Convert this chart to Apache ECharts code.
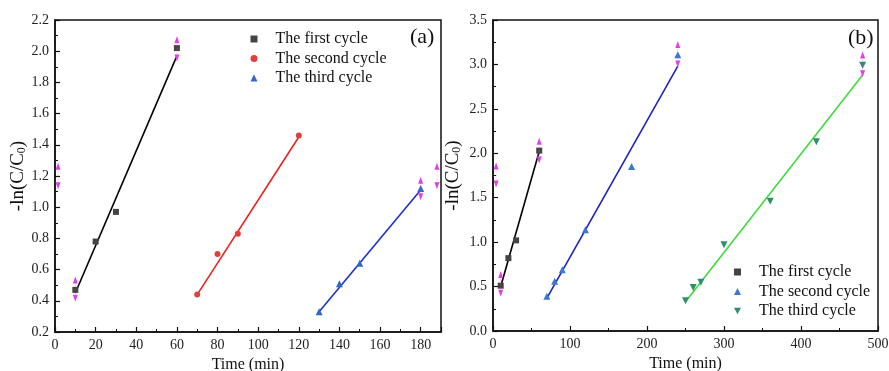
<!DOCTYPE html>
<html>
<head>
<meta charset="utf-8">
<script src="https://cdn.jsdelivr.net/npm/echarts@6/dist/echarts.min.js"></script>
<style>
  html, body { margin: 0; padding: 0; background: #fff; }
  #chart { width: 889px; height: 371px; }
</style>
</head>
<body>
<div id="chart"></div>
<script>
// panel (a) data
const aFirstX = [10, 20, 30, 60];
const aFirstY = [0.47, 0.78, 0.97, 2.02];
const aSecondX = [70, 80, 90, 120];
const aSecondY = [0.44, 0.70, 0.83, 1.46];
const aThirdX = [130, 140, 150, 180];
const aThirdY = [0.33, 0.51, 0.64, 1.12];
const aFirstFit = [[10, 0.45], [60, 1.97]];
const aSecondFit = [[70, 0.44], [120, 1.45]];
const aThirdFit = [[130, 0.33], [180, 1.11]];
const aErrX = [1.5, 10, 60, 180, 188];
const aErrHigh = [1.26, 0.53, 2.07, 1.17, 1.26];
const aErrLow = [1.14, 0.42, 1.96, 1.07, 1.14];

// panel (b) data
const bFirstX = [10, 20, 30, 60];
const bFirstY = [0.51, 0.82, 1.02, 2.03];
const bSecondX = [70, 80, 90, 120, 180, 240];
const bSecondY = [0.39, 0.56, 0.69, 1.14, 1.85, 3.11];
const bThirdX = [250, 260, 270, 300, 360, 420, 480];
const bThirdY = [0.34, 0.49, 0.55, 0.97, 1.46, 2.13, 2.99];
const bFirstFit = [[10, 0.50], [60, 2.02]];
const bSecondFit = [[70, 0.37], [240, 2.98]];
const bThirdFit = [[250, 0.33], [480, 2.88]];
const bErrX = [4, 10, 60, 240, 480];
const bErrHigh = [1.85, 0.63, 2.13, 3.22, 3.10];
const bErrLow = [1.66, 0.43, 1.93, 3.01, 2.90];

const legendNames = ['The first cycle', 'The second cycle', 'The third cycle'];

const FONT = "'Liberation Serif', 'DejaVu Serif', serif";
const downTri = 'path://M0,0 L10,0 L5,9 Z';

function zip(xs, ys) {
  return xs.map((x, i) => [x, ys[i]]);
}

// error bar: faint dashed stem with up/down arrow heads
function errRender(params, api) {
  const x = api.value(0);
  const hi = api.coord([x, api.value(1)]);
  const lo = api.coord([x, api.value(2)]);
  const c = '#e23ee6';
  return {
    type: 'group',
    children: [
      { type: 'line', shape: { x1: hi[0], y1: hi[1], x2: lo[0], y2: lo[1] },
        style: { stroke: 'rgba(226,62,230,0.35)', lineWidth: 1, lineDash: [2, 2] } },
      { type: 'polygon', shape: { points: [[hi[0] - 2.5, hi[1] + 3], [hi[0] + 2.5, hi[1] + 3], [hi[0], hi[1] - 4]] },
        style: { fill: c } },
      { type: 'polygon', shape: { points: [[lo[0] - 2.5, lo[1] - 3], [lo[0] + 2.5, lo[1] - 3], [lo[0], lo[1] + 4]] },
        style: { fill: c } }
    ]
  };
}

function xAxisOpt(idx, max, interval) {
  return {
    gridIndex: idx, type: 'value', min: 0, max: max, interval: interval,
    name: 'Time (min)', nameLocation: 'middle', nameGap: 23,
    nameTextStyle: { fontFamily: FONT, fontSize: 16, color: '#111' },
    axisLine: { show: true, lineStyle: { color: '#111', width: 1.5 } },
    axisTick: { show: true, inside: true, length: 5, lineStyle: { color: '#111', width: 1.2 } },
    minorTick: { show: true, splitNumber: 2, length: 3, lineStyle: { color: '#111', width: 1 } },
    axisLabel: { fontFamily: FONT, fontSize: 14, color: '#222', margin: 6, showMaxLabel: max % interval === 0 },
    splitLine: { show: false }
  };
}

function yAxisOpt(idx, min, max, interval, gap) {
  return {
    gridIndex: idx, type: 'value', min: min, max: max, interval: interval,
    name: '-ln(C/C{sub|0})', nameLocation: 'middle', nameGap: gap, nameRotate: 90,
    nameTextStyle: {
      fontFamily: FONT, fontSize: 19, color: '#111',
      rich: { sub: { fontFamily: FONT, fontSize: 12, verticalAlign: 'bottom', padding: [7, 0, 0, 0] } }
    },
    axisLine: { show: true, lineStyle: { color: '#111', width: 1.5 } },
    axisTick: { show: true, inside: true, length: 5, lineStyle: { color: '#111', width: 1.2 } },
    minorTick: { show: true, splitNumber: 2, length: 3, lineStyle: { color: '#111', width: 1 } },
    axisLabel: { fontFamily: FONT, fontSize: 14, color: '#222', margin: 6, formatter: v => v.toFixed(1) },
    splitLine: { show: false }
  };
}

function scatter(name, idx, data, symbol, color, size) {
  return {
    name: name, type: 'scatter', xAxisIndex: idx, yAxisIndex: idx,
    data: data, symbol: symbol, symbolSize: size, itemStyle: { color: color, opacity: 1 }, z: 5
  };
}

function fit(idx, data, color) {
  return {
    type: 'line', xAxisIndex: idx, yAxisIndex: idx, data: data, showSymbol: false,
    lineStyle: { color: color, width: 1.6 }, silent: true, z: 3
  };
}

function errSeries(idx, xs, hi, lo) {
  return {
    type: 'custom', xAxisIndex: idx, yAxisIndex: idx, renderItem: errRender,
    data: xs.map((x, i) => [x, hi[i], lo[i]]), encode: { x: 0, y: [1, 2] }, z: 6, silent: true
  };
}

function legendOpt(prefix, left, top) {
  return {
    data: legendNames.map(n => prefix + n), orient: 'vertical', left: left, top: top,
    padding: 0, itemWidth: 7, itemHeight: 7, itemGap: 3.5,
    formatter: n => n.slice(prefix.length),
    textStyle: { fontFamily: FONT, fontSize: 16, color: '#111', lineHeight: 16, padding: [0, 0, 0, 13] }
  };
}

const chart = echarts.init(document.getElementById('chart'));
chart.setOption({
  animation: false,
  backgroundColor: '#fff',
  grid: [
    { left: 55, top: 20, width: 386, height: 312, outerBoundsMode: 'none', containLabel: false,
      show: true, borderColor: '#111', borderWidth: 1.5, backgroundColor: 'transparent' },
    { left: 493, top: 20, width: 385, height: 311, outerBoundsMode: 'none', containLabel: false,
      show: true, borderColor: '#111', borderWidth: 1.5, backgroundColor: 'transparent' }
  ],
  xAxis: [xAxisOpt(0, 190, 20), xAxisOpt(1, 500, 100)],
  yAxis: [yAxisOpt(0, 0.2, 2.2, 0.2, 25), yAxisOpt(1, 0, 3.5, 0.5, 30)],
  legend: [legendOpt('a:', 250.5, 31), legendOpt('b:', 734, 264)],
  graphic: [
    { type: 'text', left: 410, top: 26, style: { text: '(a)', font: '22px ' + FONT, fill: '#111' } },
    { type: 'text', left: 848, top: 27, style: { text: '(b)', font: '22px ' + FONT, fill: '#111' } }
  ],
  series: [
    fit(0, aFirstFit, '#000'),
    fit(0, aSecondFit, '#e8231f'),
    fit(0, aThirdFit, '#1e2fd0'),
    scatter('a:' + legendNames[0], 0, zip(aFirstX, aFirstY), 'rect', '#444', 6),
    scatter('a:' + legendNames[1], 0, zip(aSecondX, aSecondY), 'circle', '#e0403a', 6),
    scatter('a:' + legendNames[2], 0, zip(aThirdX, aThirdY), 'triangle', '#2f68c8', 7),
    errSeries(0, aErrX, aErrHigh, aErrLow),

    fit(1, bFirstFit, '#000'),
    fit(1, bSecondFit, '#1e22c0'),
    fit(1, bThirdFit, '#3edc3a'),
    scatter('b:' + legendNames[0], 1, zip(bFirstX, bFirstY), 'rect', '#444', 6),
    scatter('b:' + legendNames[1], 1, zip(bSecondX, bSecondY), 'triangle', '#3a78d4', 7),
    scatter('b:' + legendNames[2], 1, zip(bThirdX, bThirdY), downTri, '#2f8f6a', 7),
    errSeries(1, bErrX, bErrHigh, bErrLow)
  ]
});
</script>
</body>
</html>
